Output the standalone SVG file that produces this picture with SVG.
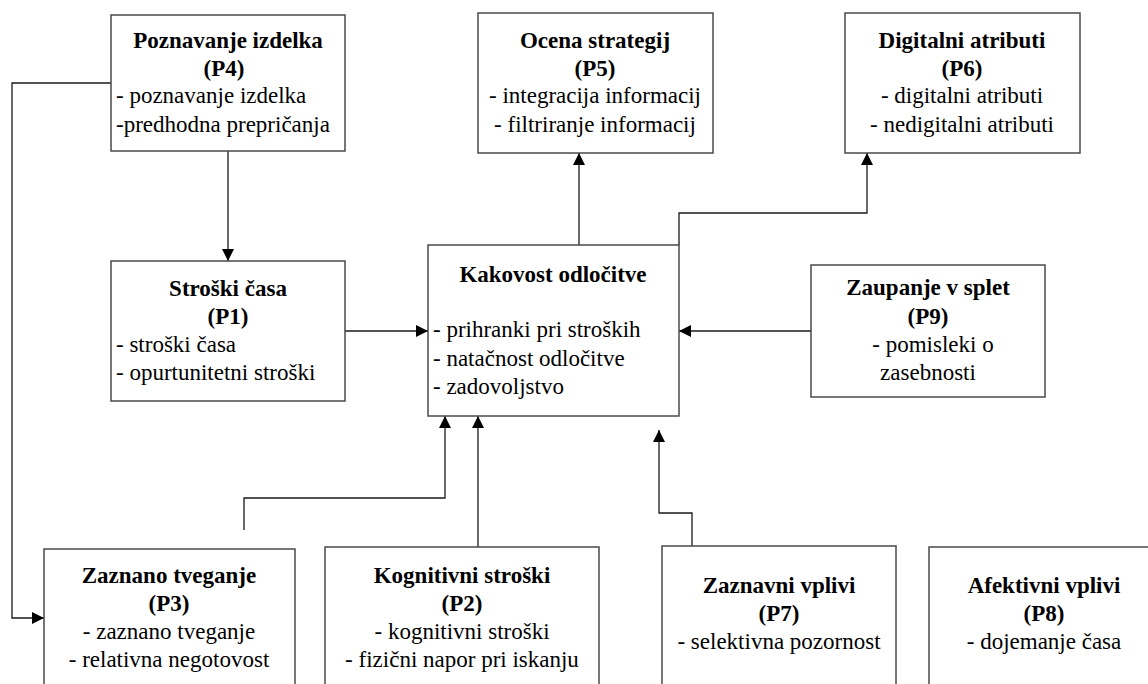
<svg xmlns="http://www.w3.org/2000/svg" width="1148" height="684" viewBox="0 0 1148 684">
  <style>
    .box { fill: #ffffff; stroke: #4a4a4a; stroke-width: 1.5; }
    .t { font-size: 23px; fill: #000; }
    .b { font-weight: bold; }
    .c { text-anchor: middle; }
    .link { fill: none; stroke: #1a1a1a; stroke-width: 1.3; }
  </style>
  <defs>
    <marker id="arrow" viewBox="0 0 12 12" refX="12" refY="6" markerWidth="12" markerHeight="12" markerUnits="userSpaceOnUse" orient="auto">
      <path d="M0,0 L12,6 L0,12 Z" fill="#000"/>
    </marker>
  </defs>
  <rect width="1148" height="684" fill="#ffffff"/>

  <!-- connectors -->
  <g id="connectors">
    <path class="link" d="M228,151 V261" marker-end="url(#arrow)"/>
    <path class="link" d="M111,83 H12 V618 H44" marker-end="url(#arrow)"/>
    <path class="link" d="M345,331 H428" marker-end="url(#arrow)"/>
    <path class="link" d="M811,331 H679" marker-end="url(#arrow)"/>
    <path class="link" d="M579,245 V153" marker-end="url(#arrow)"/>
    <path class="link" d="M679,245 V213 H867 V153" marker-end="url(#arrow)"/>
    <path class="link" d="M244,530 V498 H445 V416" marker-end="url(#arrow)"/>
    <path class="link" d="M478,547 V416" marker-end="url(#arrow)"/>
    <path class="link" d="M692,546 V513 H659 V430" marker-end="url(#arrow)"/>
  </g>

  <g font-family="Liberation Serif, Tinos, Times New Roman, Noto Serif, DejaVu Serif, serif">
  <!-- P4 -->
  <g id="p4">
    <rect class="box" x="111" y="15" width="234" height="136"/>
    <text class="t b c" x="228" y="48">Poznavanje izdelka</text>
    <text class="t b c" x="224" y="76">(P4)</text>
    <text class="t" x="116" y="103">- poznavanje izdelka</text>
    <text class="t" x="116" y="132">-predhodna prepričanja</text>
  </g>

  <!-- P5 -->
  <g id="p5">
    <rect class="box" x="478" y="13" width="235" height="140"/>
    <text class="t b c" x="595" y="48">Ocena strategij</text>
    <text class="t b c" x="595" y="76">(P5)</text>
    <text class="t c" x="595" y="103">- integracija informacij</text>
    <text class="t c" x="595" y="132">- filtriranje informacij</text>
  </g>

  <!-- P6 -->
  <g id="p6">
    <rect class="box" x="845" y="13" width="235" height="140"/>
    <text class="t b c" x="962" y="48">Digitalni atributi</text>
    <text class="t b c" x="962" y="76">(P6)</text>
    <text class="t c" x="962" y="103">- digitalni atributi</text>
    <text class="t c" x="962" y="132">- nedigitalni atributi</text>
  </g>

  <!-- P1 -->
  <g id="p1">
    <rect class="box" x="111" y="261" width="234" height="140"/>
    <text class="t b c" x="228" y="296">Stroški časa</text>
    <text class="t b c" x="228" y="324">(P1)</text>
    <text class="t" x="116" y="352">- stroški časa</text>
    <text class="t" x="116" y="380">- opurtunitetni stroški</text>
  </g>

  <!-- Kakovost odločitve -->
  <g id="kakovost">
    <rect class="box" x="428" y="245" width="251" height="171"/>
    <text class="t b c" x="553" y="282">Kakovost odločitve</text>
    <text class="t" x="433" y="337">- prihranki pri stroških</text>
    <text class="t" x="433" y="366">- natačnost odločitve</text>
    <text class="t" x="433" y="394">- zadovoljstvo</text>
  </g>

  <!-- P9 -->
  <g id="p9">
    <rect class="box" x="811" y="265" width="234" height="132"/>
    <text class="t b c" x="928" y="295">Zaupanje v splet</text>
    <text class="t b c" x="928" y="324">(P9)</text>
    <text class="t c" x="933" y="352">- pomisleki o</text>
    <text class="t c" x="928" y="380">zasebnosti</text>
  </g>

  <!-- P3 -->
  <g id="p3">
    <rect class="box" x="44" y="549" width="251" height="160"/>
    <text class="t b c" x="169" y="583">Zaznano tveganje</text>
    <text class="t b c" x="169" y="611">(P3)</text>
    <text class="t c" x="169" y="639">- zaznano tveganje</text>
    <text class="t c" x="169" y="667">- relativna negotovost</text>
  </g>

  <!-- P2 -->
  <g id="p2">
    <rect class="box" x="325" y="547" width="274" height="160"/>
    <text class="t b c" x="462" y="583">Kognitivni stroški</text>
    <text class="t b c" x="462" y="611">(P2)</text>
    <text class="t c" x="462" y="639">- kognitivni stroški</text>
    <text class="t c" x="462" y="667">- fizični napor pri iskanju</text>
  </g>

  <!-- P7 -->
  <g id="p7">
    <rect class="box" x="662" y="546" width="234" height="160"/>
    <text class="t b c" x="779" y="593">Zaznavni vplivi</text>
    <text class="t b c" x="779" y="621">(P7)</text>
    <text class="t c" x="779" y="649">- selektivna pozornost</text>
  </g>

  <!-- P8 -->
  <g id="p8">
    <rect class="box" x="929" y="547" width="231" height="160"/>
    <text class="t b c" x="1044" y="593">Afektivni vplivi</text>
    <text class="t b c" x="1044" y="621">(P8)</text>
    <text class="t c" x="1044" y="649">- dojemanje časa</text>
  </g>
  </g>
</svg>
